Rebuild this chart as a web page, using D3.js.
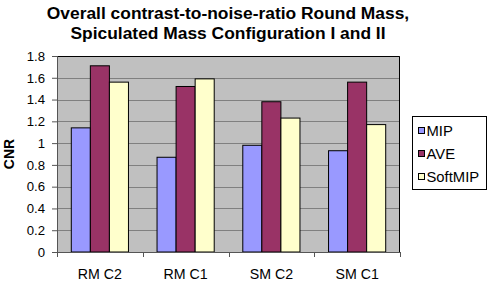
<!DOCTYPE html>
<html>
<head>
<meta charset="utf-8">
<script src="https://cdn.jsdelivr.net/npm/d3@7"></script>
<style>
  body { margin: 0; background: #fff; }
  svg { display: block; font-family: Arial, "Liberation Sans", sans-serif; }
</style>
</head>
<body>
<div id="plot"></div>
<script>
// chart data
const categories = ["RM C2", "RM C1", "SM C2", "SM C1"];
const seriesNames = ["MIP", "AVE", "SoftMIP"];
const mipValues = [1.14, 0.87, 0.98, 0.93];
const aveValues = [1.71, 1.52, 1.38, 1.56];
const softMipValues = [1.56, 1.59, 1.23, 1.17];
const yTicks = [0, 0.2, 0.4, 0.6, 0.8, 1, 1.2, 1.4, 1.6, 1.8];
const titleLines = ["Overall contrast-to-noise-ratio Round Mass,", "Spiculated Mass Configuration I and II"];

const seriesValues = [mipValues, aveValues, softMipValues];
const colors = ["#9999ff", "#993366", "#ffffcc"];

const width = 488, height = 282;
const margin = { top: 56, right: 88, bottom: 30, left: 57 };
const innerWidth = width - margin.left - margin.right;
const innerHeight = height - margin.top - margin.bottom;

const svg = d3.select("#plot")
    .append("svg")
    .attr("width", width)
    .attr("height", height);

// Title, two lines
svg.selectAll(".title")
    .data(titleLines)
    .enter()
    .append("text")
    .attr("x", 228)
    .attr("y", (d, i) => 18.5 + i * 20)
    .attr("text-anchor", "middle")
    .style("font-size", "17.4px")
    .style("font-weight", "bold")
    .text(d => d);

const g = svg.append("g")
    .attr("transform", `translate(${margin.left},${margin.top})`);

const x0 = d3.scaleBand()
    .domain(categories)
    .range([0, innerWidth]);

const x1 = d3.scaleBand()
    .domain(seriesNames)
    .range([0, x0.bandwidth()])
    .paddingOuter(0.75);

const y = d3.scaleLinear()
    .domain([0, 1.8])
    .range([innerHeight, 0]);

// Plot area background
g.append("rect")
    .attr("width", innerWidth)
    .attr("height", innerHeight)
    .attr("fill", "#c0c0c0");

// Gridlines
g.selectAll(".grid")
    .data(yTicks.filter(d => d > 0))
    .enter()
    .append("line")
    .attr("x1", 0)
    .attr("x2", innerWidth)
    .attr("y1", d => Math.round(y(d)) + 0.5)
    .attr("y2", d => Math.round(y(d)) + 0.5)
    .attr("stroke", "#808080")
    .attr("stroke-width", 1);

// Bars
const groups = g.selectAll(".group")
    .data(categories)
    .enter()
    .append("g")
    .attr("transform", d => `translate(${x0(d)},0)`);

groups.selectAll("rect")
    .data((d, i) => seriesNames.map((s, j) => ({ series: s, value: seriesValues[j][i], color: colors[j] })))
    .enter()
    .append("rect")
    .attr("x", d => x1(d.series))
    .attr("y", d => y(d.value))
    .attr("width", x1.bandwidth())
    .attr("height", d => innerHeight - y(d.value))
    .attr("fill", d => d.color)
    .attr("stroke", "#000")
    .attr("stroke-width", 1);

// Plot border (top/right)
g.append("path")
    .attr("d", `M0.5,0.5H${innerWidth - 0.5}V${innerHeight}`)
    .attr("fill", "none")
    .attr("stroke", "#000");

// Y axis
const yAxis = g.append("g")
    .call(d3.axisLeft(y).tickValues(yTicks).tickSize(5).tickFormat(d3.format("")));
yAxis.select(".domain").attr("stroke", "#555");
yAxis.selectAll(".tick line").attr("stroke", "#555");
yAxis.selectAll("text")
    .attr("x", -12)
    .style("font-size", "13.2px")
    .attr("fill", "#000");

// X axis
const xAxis = g.append("g")
    .attr("transform", `translate(0,${innerHeight})`)
    .call(d3.axisBottom(x0).tickSize(0).tickPadding(16.5));
xAxis.select(".domain").attr("stroke", "#555");
xAxis.selectAll("text")
    .style("font-size", "14.2px")
    .attr("fill", "#000");

// X tick marks at category boundaries
g.selectAll(".xtick")
    .data(categories.concat([null]))
    .enter()
    .append("line")
    .attr("x1", (d, i) => Math.round(i * x0.step()) + 0.5)
    .attr("x2", (d, i) => Math.round(i * x0.step()) + 0.5)
    .attr("y1", innerHeight)
    .attr("y2", innerHeight + 5)
    .attr("stroke", "#555");

// Y axis title
svg.append("text")
    .attr("transform", `translate(14,${margin.top + innerHeight / 2}) rotate(-90)`)
    .attr("text-anchor", "middle")
    .style("font-size", "14px")
    .style("font-weight", "bold")
    .text("CNR");

// Legend
const legend = svg.append("g")
    .attr("transform", "translate(412.5,116.5)");

legend.append("rect")
    .attr("width", 74)
    .attr("height", 73)
    .attr("fill", "#fff")
    .attr("stroke", "#000");

const items = legend.selectAll(".item")
    .data(seriesNames)
    .enter()
    .append("g")
    .attr("transform", (d, i) => `translate(0,${14 + i * 23})`);

items.append("rect")
    .attr("x", 6)
    .attr("y", -3)
    .attr("width", 6)
    .attr("height", 6)
    .attr("fill", (d, i) => colors[i])
    .attr("stroke", "#000");

items.append("text")
    .attr("x", 14)
    .attr("y", 5)
    .style("font-size", "14.8px")
    .text(d => d);
</script>
</body>
</html>
